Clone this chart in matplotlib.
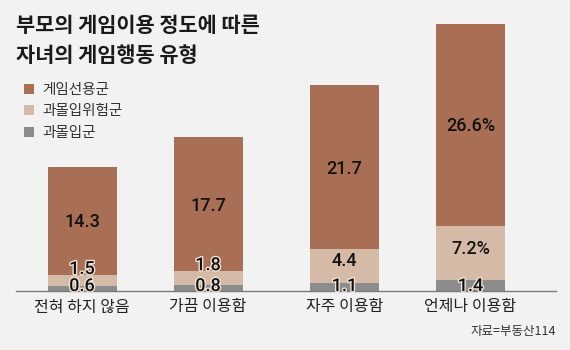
import numpy as np
import matplotlib
matplotlib.use('Agg')
from matplotlib import pyplot as plt
from matplotlib import patheffects as pe

plt.rcParams['font.family'] = ['Noto Sans CJK KR', 'DejaVu Sans']

categories = ['전혀 하지 않음', '가끔 이용함', '자주 이용함', '언제나 이용함']
series_names = ['게임선용군', '과몰입위험군', '과몰입군']
game_pref = [14.3, 17.7, 21.7, 26.6]     # 게임선용군
risk_group = [1.5, 1.8, 4.4, 7.2]        # 과몰입위험군
addicted = [0.6, 0.8, 1.1, 1.4]          # 과몰입군
pref_labels = ['14.3', '17.7', '21.7', '26.6%']
risk_labels = ['1.5', '1.8', '4.4', '7.2%']
addict_labels = ['0.6', '0.8', '1.1', '1.4']

bg = '#f2f2f2'
c_brown = '#a86f55'
c_tan = '#d5bba7'
c_gray = '#8c8c8c'

W, H = 570, 350
fig = plt.figure(figsize=(W / 100, H / 100), dpi=100, facecolor=bg)

# axes spans the plot area in pixel terms: x 16..556, baseline at y=291
base_y = 291
top_y = 20
ax = fig.add_axes([16 / W, (H - base_y) / H, 540 / W, (base_y - top_y) / H])
ax.set_facecolor(bg)
ax.set_xlim(0, 540)
ax.set_ylim(0, (base_y - top_y) / 7.585)
for s in ax.spines.values():
    s.set_visible(False)
ax.spines['bottom'].set_visible(True)
ax.spines['bottom'].set_color('#7a7a7a')
ax.spines['bottom'].set_linewidth(1.0)
ax.set_yticks([])
ax.set_xticks([])

x = np.array([66, 192, 328.5, 454.5])
w = 69
addicted = np.array(addicted)
risk_group = np.array(risk_group)
game_pref = np.array(game_pref)

b1 = ax.bar(x, addicted, w, color=c_gray, label=series_names[2], edgecolor='none')
b2 = ax.bar(x, risk_group, w, bottom=addicted, color=c_tan, label=series_names[1], edgecolor='none')
b3 = ax.bar(x, game_pref, w, bottom=addicted + risk_group, color=c_brown, label=series_names[0], edgecolor='none')

num_font = dict(family=['Roboto', 'DejaVu Sans'], fontsize=13, fontweight='medium',
                color='#111111', ha='center', va='center')
halo = [pe.withStroke(linewidth=2, foreground='#eee2d8')]

for i in range(4):
    # main segment label
    ax.text(x[i], addicted[i] + risk_group[i] + game_pref[i] / 2 - 0.2, pref_labels[i], **num_font)
    # middle segment: small ones sit above the band
    if risk_group[i] < 3:
        ry = addicted[i] + risk_group[i] + 0.8
        ax.text(x[i], ry, risk_labels[i], path_effects=halo, **num_font)
    else:
        ax.text(x[i], addicted[i] + risk_group[i] / 2 + 0.6, risk_labels[i], **num_font)
    ax.text(x[i], 0.65, addict_labels[i], path_effects=halo, **num_font)

for i, c in enumerate(categories):
    fig.text((16 + x[i]) / W, 1 - 307 / H, c, ha='center', va='center',
             fontsize=11.5, color='#222222')

fig.text(16 / W, 1 - 25 / H, '부모의 게임이용 정도에 따른', fontsize=15, fontweight='bold',
         color='#1a1a1a', va='center', ha='left')
fig.text(16 / W, 1 - 55 / H, '자녀의 게임행동 유형', fontsize=15, fontweight='bold',
         color='#1a1a1a', va='center', ha='left')

fig.legend(handles=[b3, b2, b1], labels=series_names, loc='upper left',
           bbox_to_anchor=(11 / W, 1 - 70 / H), frameon=False, fontsize=10.5,
           handlelength=0.7, handleheight=0.7, handletextpad=0.55,
           labelspacing=0.5, labelcolor='#333333')

fig.text(556 / W, 1 - 332 / H, '자료=부동산114', ha='right', va='center',
         fontsize=9, color='#333333')

fig.savefig('out.png', dpi=100, facecolor=bg)
